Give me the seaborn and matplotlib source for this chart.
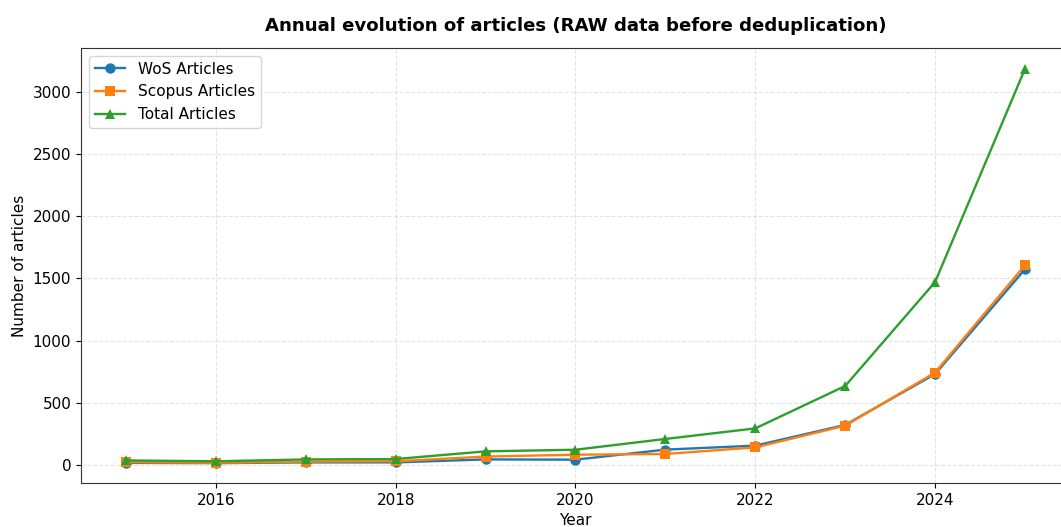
import matplotlib
matplotlib.use("Agg")
import matplotlib.pyplot as plt
import seaborn as sns
import pandas as pd

years = [2015, 2016, 2017, 2018, 2019, 2020, 2021, 2022, 2023, 2024, 2025]
wos = [14, 12, 18, 18, 42, 40, 121, 153, 320, 730, 1575]
scopus = [20, 15, 24, 27, 65, 80, 86, 139, 314, 742, 1608]
total = [34, 27, 42, 45, 107, 120, 207, 292, 634, 1472, 3190]

series_names = ["WoS Articles", "Scopus Articles", "Total Articles"]
colors = ["#1f77b4", "#ff7f0e", "#2ca02c"]
markers = ["o", "s", "^"]

df = pd.DataFrame({"Year": years, series_names[0]: wos,
                   series_names[1]: scopus, series_names[2]: total})
long = df.melt(id_vars="Year", var_name="Series", value_name="Count")

plt.rcParams['font.family'] = ['DejaVu Sans']

fig = plt.figure(figsize=(10.61, 5.27), dpi=100)
ax = fig.add_axes([81/1061, 1 - 483/527, (1070 - 81)/1061, (483 - 48)/527])

for name, c, m in zip(series_names, colors, markers):
    sub = long[long["Series"] == name]
    sns.lineplot(data=sub, x="Year", y="Count", ax=ax, color=c, marker=m,
                 markersize=7.5, linewidth=1.7, label=name, markeredgewidth=0)

ax.grid(True, linestyle="--", alpha=0.5, color="#c8c8c8")
ax.set_xlabel("Year", fontsize=11)
ax.set_ylabel("Number of articles", fontsize=11)
ax.tick_params(labelsize=11)
ax.set_xlim(2014.5, 2025.5)
ax.set_ylim(-148, 3357)
ax.set_xticks([2016, 2018, 2020, 2022, 2024])
ax.set_yticks([0, 500, 1000, 1500, 2000, 2500, 3000])
ax.legend(loc="upper left", fontsize=11, frameon=True)
for s in ax.spines.values():
    s.set_color("#333333")
fig.text(576 / 1061, 1 - 31/527, "Annual evolution of articles (RAW data before deduplication)",
         ha="center", va="baseline", fontsize=13.1, fontweight="bold")

fig.savefig("out.png", dpi=100)
